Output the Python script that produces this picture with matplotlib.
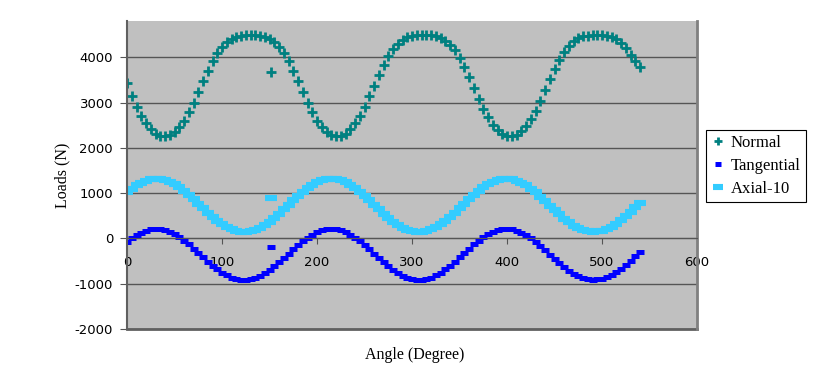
import matplotlib
matplotlib.use("Agg")
import matplotlib.pyplot as plt
import numpy as np

# angle samples, degrees
angle = np.arange(0, 545, 5)

normal = [
    3440, 3134, 2908, 2705, 2540, 2408, 2314, 2262, 2251, 2278, 2348, 2456,
    2603, 2782, 2996, 3228, 3466, 3694, 3908, 4090, 4232, 4336, 4410, 4455,
    4477, 4487, 4490, 4487, 4477, 4455, 4410, 4336, 4232, 4090, 3908, 3694,
    3466, 3228, 2996, 2782, 2603, 2456, 2348, 2278, 2251, 2262, 2314, 2408,
    2540, 2705, 2908, 3134, 3372, 3604, 3826, 4022, 4180, 4298, 4384, 4440,
    4470, 4483, 4489, 4489, 4481, 4465, 4430, 4368, 4276, 4150, 3984, 3782,
    3558, 3324, 3088, 2866, 2670, 2510, 2386, 2300, 2257, 2253, 2288, 2366,
    2482, 2636, 2824, 3042, 3276, 3512, 3738, 3946, 4120, 4254, 4352, 4420,
    4460, 4479, 4488, 4490, 4485, 4475, 4450, 4400, 4320, 4200, 4060, 3920,
    3790,
]

tangential = [
    -81, -1, 69, 127, 170, 198, 210, 205, 183, 146, 94, 29,
    -48, -133, -225, -321, -418, -512, -602, -684, -756, -816, -863, -894,
    -909, -910, -898, -870, -827, -769, -699, -619, -530, -437, -340, -244,
    -151, -64, 14, 82, 137, 177, 202, 210, 202, 177, 137, 82,
    14, -64, -151, -244, -340, -437, -530, -619, -699, -769, -827, -870,
    -898, -910, -909, -894, -863, -816, -756, -684, -602, -512, -418, -321,
    -225, -133, -48, 29, 94, 146, 183, 205, 210, 198, 170, 127,
    69, -1, -81, -170, -263, -360, -456, -549, -636, -714, -782, -837,
    -877, -902, -910, -907, -889, -855, -805, -743, -668, -584, -493, -398,
    -302,
]

axial = [
    1030, 1100, 1173, 1233, 1278, 1307, 1320, 1314, 1292, 1253, 1199, 1130,
    1050, 961, 865, 765, 664, 566, 472, 386, 311, 248, 200, 167,
    151, 150, 163, 192, 237, 297, 370, 454, 547, 644, 745, 845,
    942, 1033, 1115, 1186, 1243, 1285, 1311, 1320, 1311, 1285, 1243, 1186,
    1115, 1033, 942, 845, 745, 644, 547, 454, 370, 297, 237, 192,
    163, 150, 151, 167, 200, 248, 311, 386, 472, 566, 664, 765,
    865, 961, 1050, 1130, 1199, 1253, 1292, 1314, 1320, 1307, 1278, 1233,
    1173, 1100, 1016, 923, 826, 725, 625, 528, 437, 355, 284, 227,
    185, 159, 150, 153, 172, 208, 259, 325, 403, 490, 585, 685,
    785,
]

# odd single points near 150 deg
stray_angle = [152]
stray_normal = [3680]
stray_tangential = [-190]
stray_axial = [900]

plt.rcParams["axes.unicode_minus"] = False
SERIF = "Liberation Serif"

fig = plt.figure(figsize=(8.38, 3.75), dpi=100)
ax = fig.add_axes([127 / 838, 46 / 375, 570 / 838, 308 / 375])
ax.set_facecolor("#C0C0C0")

styles = {
    "Normal": dict(marker="+", ms=7.5, mew=2.0, color="#008080"),
    "Tangential": dict(marker="_", ms=6, mew=3.6, color="#0000FF"),
    "Axial-10": dict(marker="_", ms=9, mew=4.4, color="#33CCFF"),
}
ax.plot(angle, normal, ls="none", label="Normal", **styles["Normal"])
ax.plot(angle, tangential, ls="none", label="Tangential", **styles["Tangential"])
ax.plot(angle, axial, ls="none", label="Axial-10", **styles["Axial-10"])
ax.plot(stray_angle, stray_normal, ls="none", **styles["Normal"])
ax.plot(stray_angle, stray_tangential, ls="none", **styles["Tangential"])
ax.plot(stray_angle, stray_axial, ls="none", **styles["Axial-10"])

ax.set_xlim(0, 600)
ax.set_ylim(-2000, 4800)
ax.set_xticks(range(0, 601, 100))
ax.set_yticks(range(-2000, 4001, 1000))
ax.grid(axis="y", color="#555555", linewidth=1)
ax.set_axisbelow(True)

ax.spines["top"].set_visible(False)
ax.spines["left"].set_color("#606060")
ax.spines["left"].set_linewidth(1.5)
ax.spines["right"].set_color("#808080")
ax.spines["right"].set_linewidth(2)
ax.spines["bottom"].set_position(("data", 0))
ax.spines["bottom"].set_color("#555555")
ax.axhline(-2000, color="#606060", linewidth=2, clip_on=False)

ax.tick_params(axis="x", direction="out", length=4, pad=9, labelsize=9.5, color="#555555")
ax.tick_params(axis="y", direction="out", length=5, pad=5, labelsize=9.5, color="#555555")

fig.text(62 / 838, 1 - 175 / 375, "Loads (N)", rotation=90, ha="center", va="center",
         family=SERIF, fontsize=11.5)
fig.text(415 / 838, 1 - 355 / 375, "Angle (Degree)", ha="center", va="center",
         family=SERIF, fontsize=11.5)

leg = ax.legend(loc="upper left", bbox_to_anchor=(706 / 838, 1 - 130 / 375),
                bbox_transform=fig.transFigure, prop={"family": SERIF, "size": 12},
                frameon=True, fancybox=False, framealpha=1, edgecolor="black",
                borderpad=0.3, labelspacing=0.42, handlelength=0.8, handletextpad=0.4,
                borderaxespad=0, markerscale=0.8)
leg.get_frame().set_linewidth(0.8)

fig.savefig("out.png", dpi=100)
